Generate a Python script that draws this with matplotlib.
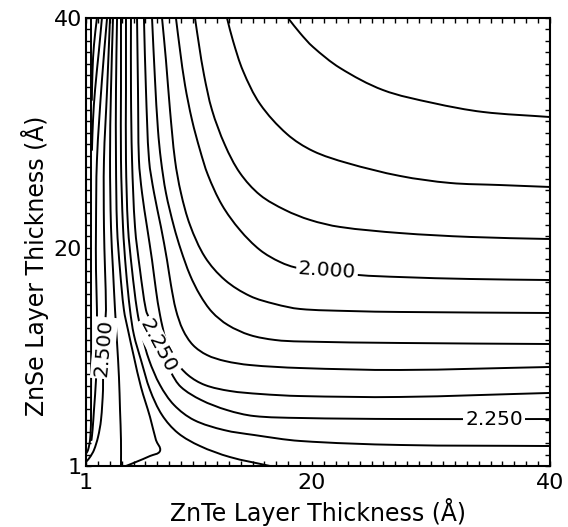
import math
import matplotlib
matplotlib.use("Agg")
import matplotlib.pyplot as plt
from matplotlib.path import Path
from matplotlib.patches import PathPatch

# ---- contour lines (band-gap levels, eV) ----
# x: ZnTe layer thickness (A), y: ZnSe layer thickness (A)
lev_185_x = [17.98, 18.99, 20.08, 22.35, 25.96, 30.17, 34.37, 40.0]
lev_185_y = [40.0, 38.69, 37.48, 35.65, 33.73, 32.6, 31.82, 31.38]

lev_190_x = [12.85, 13.36, 14.2, 15.63, 17.89, 20.08, 22.94, 27.39, 31.6, 35.8, 40.0]
lev_190_y = [40.0, 38.0, 35.39, 32.51, 29.9, 28.42, 27.38, 26.25, 25.64, 25.46, 25.29]

lev_195_x = [10.16, 10.5, 10.92, 11.59, 12.68, 13.94, 15.63, 17.73, 19.83, 22.35, 27.39, 33.28, 40.0]
lev_195_y = [40.0, 37.65, 35.04, 31.99, 28.94, 26.51, 24.59, 23.29, 22.42, 21.81, 21.28, 20.94, 20.76]

lev_200_x = [8.56, 8.9, 9.32, 9.91, 10.58, 11.25, 12.43, 13.94, 15.63, 17.31, 18.82, 23.86, 27.39, 33.28, 40.0]
lev_200_y = [40.0, 37.21, 34.17, 31.12, 28.51, 26.33, 23.72, 21.54, 19.8, 18.76, 18.24, 17.63, 17.45, 17.28, 17.19]

lev_205_x = [7.39, 7.72, 8.06, 8.48, 8.98, 9.74, 11.0, 12.68, 14.78, 16.89, 18.99, 23.19, 27.39, 40.0]
lev_205_y = [40.0, 36.34, 31.99, 27.64, 24.77, 21.98, 19.19, 17.19, 15.8, 15.1, 14.67, 14.49, 14.41, 14.32]

lev_210_x = [6.55, 6.8, 7.05, 7.3, 7.72, 8.4, 8.98, 9.74, 10.58, 11.59, 12.93, 14.78, 16.89, 18.99, 27.39, 40.0]
lev_210_y = [40.0, 34.6, 30.25, 27.64, 24.77, 21.81, 19.8, 17.63, 15.89, 14.41, 13.27, 12.4, 11.97, 11.84, 11.71, 11.62]

lev_215_x = [5.87, 6.04, 6.3, 6.72, 7.3, 7.81, 8.14, 8.56, 9.15, 9.99, 11.17, 12.68, 14.78, 18.99, 27.39, 40.0]
lev_215_y = [40.0, 33.73, 27.64, 24.77, 21.81, 18.93, 16.76, 14.58, 12.84, 11.53, 10.66, 10.14, 9.79, 9.53, 9.36, 9.62]

lev_220_x = [5.29, 5.37, 5.45, 5.71, 6.13, 6.55, 6.88, 7.22, 7.72, 8.48, 9.57, 11.0, 13.1, 15.63, 18.99, 27.39, 40.0]
lev_220_y = [40.0, 33.73, 27.64, 24.77, 21.81, 18.93, 16.32, 14.15, 11.97, 10.23, 8.92, 8.05, 7.53, 7.27, 7.09, 7.01, 7.36]

lev_225_x = [4.78, 4.78, 4.87, 5.12, 5.54, 6.04, 6.38, 7.22, 8.14, 8.98, 10.67, 12.85, 15.12, 18.99, 27.39, 40.0]
lev_225_y = [40.0, 33.73, 27.64, 21.81, 18.06, 14.58, 13.71, 11.53, 9.18, 7.88, 6.75, 5.87, 5.35, 5.18, 5.09, 5.09]

lev_230_x = [4.36, 4.36, 4.36, 4.53, 4.87, 5.29, 5.71, 6.3, 7.22, 8.4, 10.08, 12.6, 15.12, 18.99, 27.39, 40.0]
lev_230_y = [40.0, 33.73, 27.64, 21.81, 18.06, 14.58, 12.4, 10.23, 8.05, 6.31, 5.0, 4.13, 3.7, 3.18, 2.83, 2.74]

lev_235_x = [3.94, 3.94, 3.94, 4.11, 4.36, 4.7, 5.03, 5.62, 6.38, 7.39, 8.73, 10.58, 13.1, 16.47]
lev_235_y = [40.0, 33.73, 27.64, 21.81, 18.06, 14.58, 12.4, 10.23, 7.62, 5.44, 3.87, 2.74, 1.78, 1.0]

lev_240_x = [3.61, 3.52, 3.52, 3.61, 3.86, 4.19, 4.53, 5.03, 5.62, 6.38, 6.88, 7.22, 6.38, 5.2, 4.36]
lev_240_y = [40.0, 33.73, 27.64, 21.81, 18.06, 14.58, 12.84, 10.49, 7.88, 5.27, 3.26, 2.31, 1.87, 1.35, 1.0]

lev_245_x = [3.27, 3.1, 3.02, 3.1, 3.27, 3.44, 3.61, 3.77, 3.86, 3.94, 3.94]
lev_245_y = [40.0, 33.73, 27.64, 21.81, 18.06, 14.58, 11.71, 8.75, 5.87, 3.26, 1.0]

lev_250_x = [3.02, 2.77, 2.51, 2.51, 2.6, 2.68, 2.6, 2.43, 2.43, 2.26, 2.01, 1.67, 1.34, 1.08]
lev_250_y = [40.0, 33.73, 27.64, 21.81, 18.06, 14.58, 13.45, 9.1, 7.62, 5.0, 3.52, 2.39, 1.78, 1.44]

lev_255_x = [2.77, 2.34, 1.92, 1.84, 1.84, 1.92, 1.92, 1.84, 1.67, 1.55, 1.46]
lev_255_y = [40.0, 34.6, 27.64, 21.81, 18.06, 14.58, 11.1, 8.49, 5.87, 4.13, 3.26]

lev_260_x = [2.34, 2.09, 1.76, 1.59, 1.5]
lev_260_y = [40.0, 37.21, 33.73, 31.12, 28.51]

lev_265_x = [1.92, 1.67, 1.55, 1.49]
lev_265_y = [40.0, 37.65, 35.47, 32.86]

lev_270_x = [1.42, 1.42, 1.42, 1.34, 1.17, 1.04]
lev_270_y = [40.0, 15.45, 5.0, 3.26, 2.39, 2.13]

contours = [
    (lev_185_x, lev_185_y), (lev_190_x, lev_190_y), (lev_195_x, lev_195_y),
    (lev_200_x, lev_200_y), (lev_205_x, lev_205_y), (lev_210_x, lev_210_y),
    (lev_215_x, lev_215_y), (lev_220_x, lev_220_y), (lev_225_x, lev_225_y),
    (lev_230_x, lev_230_y), (lev_235_x, lev_235_y), (lev_240_x, lev_240_y),
    (lev_245_x, lev_245_y), (lev_250_x, lev_250_y), (lev_255_x, lev_255_y),
    (lev_260_x, lev_260_y), (lev_265_x, lev_265_y), (lev_270_x, lev_270_y),
]

# contour labels: text, x, y, rotation
label_texts = ["2.000", "2.250", "2.250", "2.500"]
label_x = [21.26, 35.29, 7.05, 2.51]
label_y = [17.98, 5.09, 11.45, 11.27]
label_rot = [-4, 0, -62, 85]

tick_values = list(range(1, 41))
tick_shown = {1: "1", 20: "20", 40: "40"}


def _unit(a, b):
    dx, dy = b[0] - a[0], b[1] - a[1]
    d = math.hypot(dx, dy)
    return (dx / d, dy / d) if d > 0 else (0.0, 0.0)


def smooth_path(xs, ys):
    """Draw the traced points as one smooth Bezier path (no overshoot)."""
    pts = list(zip(xs, ys))
    n = len(pts)
    verts = [pts[0]]
    codes = [Path.MOVETO]
    for i in range(n - 1):
        p0 = pts[i - 1] if i > 0 else pts[i]
        p1 = pts[i]
        p2 = pts[i + 1]
        p3 = pts[i + 2] if i + 2 < n else pts[i + 1]
        seg = math.hypot(p2[0] - p1[0], p2[1] - p1[1])
        t1 = _unit(p0, p2)
        t2 = _unit(p1, p3)
        c1 = (p1[0] + t1[0] * seg / 3.0, p1[1] + t1[1] * seg / 3.0)
        c2 = (p2[0] - t2[0] * seg / 3.0, p2[1] - t2[1] * seg / 3.0)
        verts += [c1, c2, p2]
        codes += [Path.CURVE4, Path.CURVE4, Path.CURVE4]
    return Path(verts, codes)


fig = plt.figure(figsize=(5.68, 5.27), dpi=100)
ax = fig.add_axes([86 / 568, (527 - 466) / 527, 464 / 568, 448 / 527])

for cx, cy in contours:
    ax.add_patch(PathPatch(smooth_path(cx, cy), fill=False, ec="black",
                           lw=1.4, joinstyle="round", capstyle="round"))

for t, lx, ly, r in zip(label_texts, label_x, label_y, label_rot):
    ax.text(lx, ly, t, fontsize=14.5, rotation=r, ha="center", va="center",
            rotation_mode="anchor",
            bbox=dict(boxstyle="square,pad=0.1", fc="white", ec="none"))

ax.set_xlim(1, 40)
ax.set_ylim(1, 40)
ax.set_xticks(tick_values)
ax.set_yticks(tick_values)
ax.set_xticklabels([tick_shown.get(v, "") for v in tick_values])
ax.set_yticklabels([tick_shown.get(v, "") for v in tick_values])
ax.tick_params(axis="both", direction="in", length=3.8, width=1.0,
               top=True, right=True, labelsize=16, color="black")
ax.tick_params(axis="x", pad=5)
ax.tick_params(axis="y", pad=3)
for s in ax.spines.values():
    s.set_linewidth(1.5)

ax.set_xlabel("ZnTe Layer Thickness (Å)", fontsize=17)
ax.set_ylabel("ZnSe Layer Thickness (Å)", fontsize=17)
ax.xaxis.label.set_va("baseline")
ax.yaxis.label.set_va("baseline")
ax.xaxis.set_label_coords(0.5, (466 - 521) / 448)
ax.yaxis.set_label_coords((44 - 86) / 464, (466 - 266) / 448)

fig.savefig("out.png", dpi=100)
